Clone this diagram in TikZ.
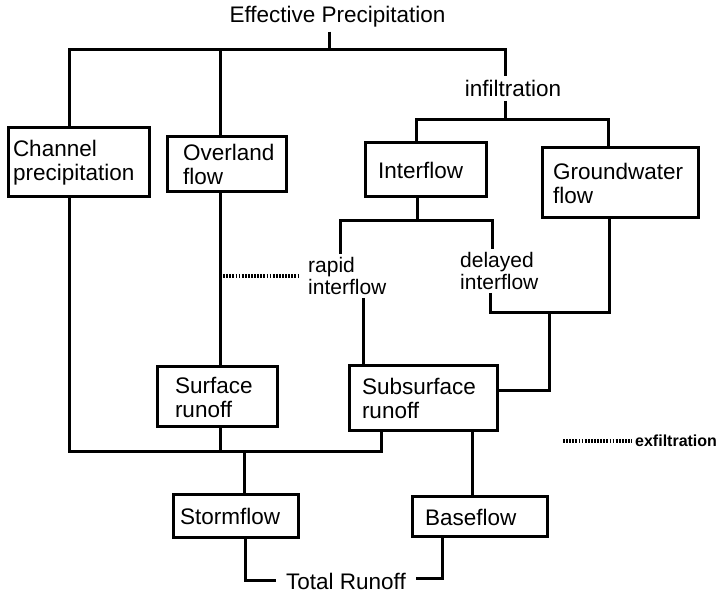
\documentclass[tikz,border=0pt]{standalone}
\usepackage{fontspec}
\setmainfont{Liberation Sans}
\begin{document}
\begin{tikzpicture}[
 x=1pt,y=-1pt,
 line/.style={line width=3pt},
 seep/.style={line width=3.2pt,dash pattern=on 1.8pt off 1.3pt},
 box/.style={draw,line width=3pt,rectangle,align=left,inner xsep=0pt,inner ysep=0pt,
  font=\fontsize{22.5}{24}\selectfont},
 lab/.style={inner sep=4pt,align=left,font=\fontsize{22.5}{24}\selectfont},
 sublab/.style={inner sep=3pt,align=left,font=\fontsize{21}{22}\selectfont}]
 \useasboundingbox (0,0) rectangle (721,593);
 % Source and the first split.
 \node[lab] (ep) at (337.5,17) {Effective Precipitation};
 \node[lab] (inf) at (513,88.5) {infiltration};
 \node[box,minimum width=141,minimum height=69,text width=131] (chan) at (78.5,162.5) {Channel\\precipitation};
 \node[box,minimum width=119,minimum height=55,text width=87] (over) at (226.5,164.5) {Overland\\flow};
 \coordinate (jEP) at (329,50);
 \coordinate (jCh) at (69,50);
 \coordinate (jOv) at (220,50);
 \coordinate (jIn) at (505,50);
 \draw[line] (ep.south -| jEP) -- (jEP);
 \draw[line] (chan.north -| jCh) -- (jCh) -- (jIn) -- (inf.north -| jIn);
 \draw[line] (jOv) -- (over.north -| jOv);
 % Infiltration feeds interflow and groundwater.
 \node[box,minimum width=121,minimum height=54,text width=95] (intf) at (425.5,170) {Interflow};
 \node[box,minimum width=156,minimum height=70,text width=134] (grnd) at (620,183) {Groundwater\\flow};
 \coordinate (jInf) at (505,120);
 \coordinate (jIf) at (416,120);
 \coordinate (jGw) at (608,120);
 \draw[line] (inf.south -| jInf) -- (jInf);
 \draw[line] (intf.north -| jIf) -- (jIf) -- (jGw) -- (grnd.north -| jGw);
 % Rapid and delayed interflow.
 \node[sublab,anchor=west] (rapid) at (305,276) {rapid\\interflow};
 \node[sublab,anchor=west] (delay) at (457,271) {delayed\\interflow};
 \coordinate (jI) at (417,221);
 \coordinate (jR) at (340,221);
 \coordinate (jD) at (492,221);
 \draw[line] (intf.south -| jI) -- (jI);
 \draw[line] (rapid.north -| jR) -- (jR) -- (jD) -- (delay.north -| jD);
 \draw[seep,shorten >=5pt] (rapid.west -| jOv) -- (rapid.west);
 % Runoff boxes.
 \node[box,minimum width=120,minimum height=60,text width=84] (surf) at (217,397) {Surface\\runoff};
 \node[box,minimum width=148,minimum height=65,text width=122] (subs) at (423,398.5) {Subsurface\\runoff};
 \coordinate (xRp) at (363,0);
 \coordinate (jDl) at (490,313);
 \coordinate (jGb) at (609,313);
 \coordinate (jM) at (549,313);
 \draw[line] (over.south -| jOv) -- (surf.north -| jOv);
 \draw[line] (rapid.south -| xRp) -- (subs.north -| xRp);
 \draw[line] (delay.south -| jDl) -- (jDl) -- (jGb) -- (grnd.south -| jGb);
 \draw[line] (jM) |- ([yshift=7.5pt]subs.east);
 % Stormflow and baseflow.
 \node[box,minimum width=125,minimum height=43,text width=111] (strm) at (235.5,516.5) {Stormflow};
 \node[box,minimum width=135,minimum height=40,text width=109] (base) at (479.5,517) {Baseflow};
 \coordinate (jB1) at (69,452);
 \coordinate (jB2) at (220,452);
 \coordinate (jB3) at (381,452);
 \coordinate (jSt) at (244,452);
 \coordinate (xBs) at (472,0);
 \draw[line] (chan.south -| jB1) -- (jB1) -- (jB3) -- (subs.south -| jB3);
 \draw[line] (surf.south -| jB2) -- (jB2);
 \draw[line] (jSt) -- (strm.north -| jSt);
 \draw[line] (subs.south -| xBs) -- (base.north -| xBs);
 % Total runoff.
 \node[lab,inner xsep=10pt] (tot) at (346,581) {Total Runoff};
 \coordinate (jT1) at (245,581);
 \coordinate (jT2) at (442,579);
 \draw[line] (strm.south -| jT1) -- (jT1) -- (tot.west |- jT1);
 \draw[line] (base.south -| jT2) -- (jT2) -- (tot.east |- jT2);
 % Legend.
 \node[inner sep=3pt,anchor=west,font=\fontsize{16}{18}\selectfont\bfseries] (exf) at (632,441) {exfiltration};
 \coordinate (exs) at (563,441);
 \draw[seep] (exs) -- (exf.west);
\end{tikzpicture}
\end{document}
